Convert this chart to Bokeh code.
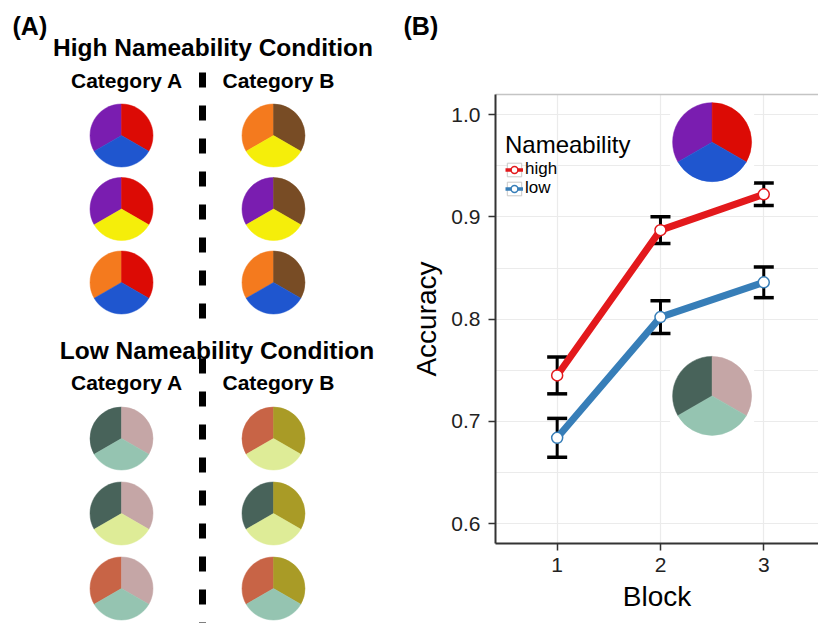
import math
from bokeh.plotting import figure
from bokeh.layouts import row, column
from bokeh.models import (Range1d, FixedTicker, LinearAxis, Legend, LegendItem,
                          Whisker, ColumnDataSource, NumeralTickFormatter, TeeHead)
from bokeh.core.properties import value
from bokeh.embed import file_html
from bokeh.resources import INLINE

# ---------------- data ----------------
blocks = [1, 2, 3]
acc_high = [0.745, 0.887, 0.922]
err_high = [0.018, 0.013, 0.011]
acc_low = [0.684, 0.802, 0.836]
err_low = [0.019, 0.016, 0.015]
y_ticks = [0.6, 0.7, 0.8, 0.9, 1.0]
x_ticks = [1, 2, 3]
series_names = ["high", "low"]
legend_title = "Nameability"

palette = {
    "red": "#dc0b05", "purple": "#7a1db0", "blue": "#1f56cf",
    "orange": "#f47a1e", "brown": "#784c25", "yellow": "#f5ee0a",
    "darkgreen": "#48635a", "pink": "#c5a6a6", "mint": "#95c4b1",
    "terracotta": "#c86446", "olive": "#a99b26", "paleyellow": "#deec97",
}
# each pie: (left slice, right slice, bottom slice)
high_cat_a = [["purple", "red", "blue"], ["purple", "red", "yellow"], ["orange", "red", "blue"]]
high_cat_b = [["orange", "brown", "yellow"], ["purple", "brown", "yellow"], ["orange", "brown", "blue"]]
low_cat_a = [["darkgreen", "pink", "mint"], ["darkgreen", "pink", "paleyellow"], ["terracotta", "pink", "mint"]]
low_cat_b = [["terracotta", "olive", "paleyellow"], ["darkgreen", "olive", "paleyellow"], ["terracotta", "olive", "mint"]]
inset_high = ["purple", "red", "blue"]
inset_low = ["darkgreen", "pink", "mint"]

group_titles = ["High Nameability Condition", "Low Nameability Condition"]
column_titles = ["Category A", "Category B"]
panel_labels = ["(A)", "(B)"]

FONT = "Liberation Sans"
# slice geometry (degrees): left, right, bottom
slice_angles = [(90, 210), (-30, 90), (210, 330)]

TOTAL_W, TOTAL_H = 818, 623

# ---------------- panel A ----------------
WA, HA = 390, TOTAL_H
pA = figure(width=WA, height=HA, x_range=Range1d(0, WA), y_range=Range1d(0, HA),
            output_backend="svg", toolbar_location=None, min_border=0,
            x_axis_location=None, y_axis_location=None, outline_line_color=None)
pA.grid.visible = False


def X(px):
    return px


def Y(py):
    return HA - py


col_x = [121, 273]
group_top = [135, 438]
row_step = [73.5, 75]
title_y = [47, 349.5]
title_cx = [212.5, 216.5]
coltitle_y = [80, 381.5]
coltitle_cx = [126.5, 278]

wx, wy, ws, we, wc = [], [], [], [], []
for g, cats in enumerate([(high_cat_a, high_cat_b), (low_cat_a, low_cat_b)]):
    for c, cat in enumerate(cats):
        for r, pie in enumerate(cat):
            for s, col in enumerate(pie):
                wx.append(X(col_x[c]))
                wy.append(Y(group_top[g] + r * row_step[g]))
                ws.append(math.radians(slice_angles[s][0]))
                we.append(math.radians(slice_angles[s][1]))
                wc.append(palette[col])
pA.wedge(x=wx, y=wy, radius=31.5, radius_units="screen", start_angle=ws, end_angle=we,
         fill_color=wc, line_color=wc, line_width=0.5)

tx, ty, tt = [], [], []
for g in range(2):
    tx.append(X(title_cx[g])); ty.append(Y(title_y[g])); tt.append(group_titles[g])
pA.text(x=tx, y=ty, text=tt, text_font=value(FONT), text_font_style="bold",
        text_font_size="24.5px", text_align="center", text_baseline="middle", text_color="black")
cx, cy, ct = [], [], []
for g in range(2):
    for c in range(2):
        cx.append(X(coltitle_cx[c])); cy.append(Y(coltitle_y[g])); ct.append(column_titles[c])
pA.text(x=cx, y=cy, text=ct, text_font=value(FONT), text_font_style="bold",
        text_font_size="21px", text_align="center", text_baseline="middle", text_color="black")
pA.text(x=[X(12)], y=[Y(25)], text=[panel_labels[0]], text_font=value(FONT), text_font_style="bold",
        text_font_size="25px", text_align="left", text_baseline="middle", text_color="black")

divider_x = 202
pA.line(x=[X(divider_x)] * 2, y=[Y(72), Y(320)], line_color="black", line_width=7, line_dash="15 18")
pA.line(x=[X(divider_x)] * 2, y=[Y(358), Y(640)], line_color="black", line_width=7, line_dash="15 18")

# ---------------- panel B heading strip ----------------
WB = TOTAL_W - WA
HT = 40
pT = figure(width=WB, height=HT, x_range=Range1d(0, WB), y_range=Range1d(0, HT),
            output_backend="svg", toolbar_location=None, min_border=0,
            x_axis_location=None, y_axis_location=None, outline_line_color=None)
pT.grid.visible = False
pT.text(x=[13], y=[HT - 25], text=[panel_labels[1]], text_font=value(FONT), text_font_style="bold",
        text_font_size="25px", text_align="left", text_baseline="middle", text_color="black")

# ---------------- panel B ----------------
RED = "#e3191c"
BLUE = "#377eb8"
pB = figure(width=WB, height=TOTAL_H - HT, x_range=Range1d(0.403, 0.403 + (WB - 105) / 103.3),
            y_range=Range1d(0.5807, 1.0196),
            output_backend="svg", toolbar_location=None,
            min_border_left=105, min_border_right=0, min_border_top=94 - HT, min_border_bottom=80,
            outline_line_color=None, background_fill_color="white")

for fig in (pA, pT, pB):
    try:
        fig.frame_align = False
    except Exception:
        pass

pB.xaxis.ticker = FixedTicker(ticks=x_ticks)
pB.yaxis.ticker = FixedTicker(ticks=y_ticks,
                              minor_ticks=[(a + b) / 2 for a, b in zip(y_ticks, y_ticks[1:])])
pB.yaxis.formatter = NumeralTickFormatter(format="0.0")
for ax in (pB.xaxis[0], pB.yaxis[0]):
    ax.axis_line_color = "#333333"
    ax.axis_line_width = 2
    ax.major_tick_line_color = "#333333"
    ax.major_tick_line_width = 1.5
    ax.major_tick_out = 7
    ax.major_tick_in = 0
    ax.minor_tick_line_color = None
    ax.major_label_text_font = FONT
    ax.major_label_text_font_size = "21px"
    ax.major_label_text_color = "#222222"
    ax.axis_label_text_font = FONT
    ax.axis_label_text_font_size = "28px"
    ax.axis_label_text_font_style = "normal"
    ax.axis_label_text_color = "black"
pB.xaxis.axis_label = "Block"
pB.yaxis.axis_label = "Accuracy"
pB.xaxis.major_label_standoff = 7
pB.yaxis.major_label_standoff = 8
pB.xaxis.axis_label_standoff = 6
pB.yaxis.axis_label_standoff = 6

top_axis = LinearAxis(ticker=FixedTicker(ticks=[]), axis_line_color="#c4c4c4", axis_line_width=1.5,
                      major_tick_line_color=None, minor_tick_line_color=None,
                      major_tick_out=0, major_tick_in=0, major_label_standoff=0)
pB.add_layout(top_axis, "above")

pB.xgrid.grid_line_color = "#ebebeb"
pB.ygrid.grid_line_color = "#ebebeb"
pB.ygrid.minor_grid_line_color = "#ebebeb"
pB.xgrid.grid_line_width = 1.2
pB.ygrid.grid_line_width = 1.2

# pie insets
inset_x = 2.5
inset_y = [0.973, 0.725]
pB.rect(x=[inset_x] * 2, y=inset_y, width=84, height=84, width_units="screen",
        height_units="screen", fill_color="white", line_color=None)
bx, by, bs, be, bc = [], [], [], [], []
for yy, pie in zip(inset_y, [inset_high, inset_low]):
    for s, col in enumerate(pie):
        bx.append(inset_x); by.append(yy)
        bs.append(math.radians(slice_angles[s][0])); be.append(math.radians(slice_angles[s][1]))
        bc.append(palette[col])
pB.wedge(x=bx, y=by, radius=39.5, radius_units="screen", start_angle=bs, end_angle=be,
         fill_color=bc, line_color=bc, line_width=0.5)

legend_items = []
for name, acc, err, color in [("high", acc_high, err_high, RED), ("low", acc_low, err_low, BLUE)]:
    src = ColumnDataSource(dict(x=blocks, y=acc,
                                lo=[a - e for a, e in zip(acc, err)],
                                hi=[a + e for a, e in zip(acc, err)]))
    wk = Whisker(base="x", upper="hi", lower="lo", source=src, line_color="black", line_width=3,
                 upper_head=TeeHead(size=20, line_width=3.5, line_color="black"),
                 lower_head=TeeHead(size=20, line_width=3.5, line_color="black"))
    pB.add_layout(wk)
    pB.line(x="x", y="y", source=src, line_color=color, line_width=7)
    sc = pB.scatter(x="x", y="y", source=src, size=11, fill_color="white",
                    line_color=color, line_width=1.5)
    box = pB.rect(x="x", y="y", source=src, width=1, height=1, fill_color="white",
                  line_color="#c8c8c8", line_width=1, visible=False)
    kl = pB.line(x="x", y="y", source=src, line_color=color, line_width=3.5, visible=False)
    legend_items.append(LegendItem(label=name, renderers=[box, kl, sc]))

legend_style = dict(glyph_width=18, glyph_height=17, label_height=16, spacing=0, padding=0, margin=0,
                    label_standoff=2, label_text_font=FONT, label_text_font_size="17px",
                    label_text_color="black", border_line_color=None, background_fill_alpha=0)
legend_hi = Legend(items=[legend_items[0]], title=legend_title, location=(10, 364),
                   title_text_font=FONT, title_text_font_size="24px", title_text_font_style="normal",
                   title_text_color="black", title_standoff=-11, **legend_style)
legend_lo = Legend(items=[legend_items[1]], location=(10, 345), **legend_style)
pB.add_layout(legend_hi)
pB.add_layout(legend_lo)

layout = row(pA, column(pT, pB))
open("out.html", "w").write(file_html(layout, INLINE))
